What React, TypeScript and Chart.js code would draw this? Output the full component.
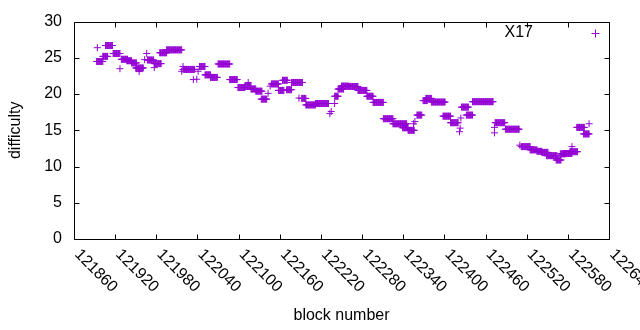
import { useEffect, useRef } from "react";
import { Chart, registerables } from "chart.js";

Chart.register(...registerables);

// Runs of consecutive blocks sharing the same difficulty
const runStart = [
  121893, 121894, 121902, 121906, 121917, 121927, 121929, 121937, 121944, 121950,
  121955, 121963, 121966, 121967, 121977, 121977, 121985, 121995, 122017, 122019,
  122019, 122034, 122039, 122041, 122043, 122051, 122059, 122070, 122087, 122099,
  122109, 122114, 122118, 122125, 122133, 122143, 122146, 122148, 122158, 122164,
  122170, 122177, 122188, 122192, 122198, 122212, 122233, 122235, 122240, 122240,
  122245, 122250, 122260, 122274, 122287, 122296, 122311, 122325, 122339, 122347,
  122355, 122357, 122360, 122369, 122373, 122381, 122398, 122409, 122422, 122423,
  122424, 122425, 122432, 122441, 122473, 122473, 122474, 122489, 122510, 122512,
  122525, 122535, 122542, 122549, 122563, 122569, 122573, 122586, 122583, 122593,
  122603, 122611,
];
const runEnd = [
  121902, 121894, 121909, 121916, 121927, 121927, 121938, 121944, 121951, 121961,
  121955, 121963, 121966, 121976, 121987, 121977, 121995, 122017, 122017, 122036,
  122019, 122034, 122039, 122041, 122051, 122059, 122069, 122087, 122098, 122109,
  122118, 122114, 122125, 122134, 122141, 122143, 122146, 122158, 122166, 122171,
  122177, 122193, 122188, 122198, 122212, 122231, 122233, 122235, 122240, 122245,
  122253, 122260, 122274, 122287, 122296, 122311, 122325, 122345, 122347, 122356,
  122355, 122357, 122367, 122375, 122381, 122401, 122409, 122420, 122422, 122423,
  122424, 122435, 122441, 122471, 122473, 122473, 122488, 122509, 122510, 122525,
  122535, 122542, 122551, 122564, 122570, 122576, 122586, 122586, 122594, 122604,
  122611, 122611,
];
const runValue = [
  24.5, 26.4, 25.2, 26.7, 25.6, 23.5, 24.8, 24.6, 24.3, 23.6,
  23.1, 24.75, 25.6, 24.7, 24.2, 23.65, 25.7, 26.1, 23.15, 23.4,
  23.8, 22.0, 22.05, 23.15, 23.8, 22.65, 22.3, 24.15, 22.0, 20.9,
  21.05, 21.6, 20.7, 20.4, 19.3, 20.1, 21.1, 21.4, 20.5, 21.9,
  20.6, 21.6, 19.45, 19.4, 18.5, 18.7, 17.3, 17.6, 18.7, 19.7,
  20.7, 21.1, 21.05, 20.5, 19.7, 18.85, 16.6, 15.9, 15.35, 15.0,
  15.9, 16.2, 17.1, 19.1, 19.4, 18.9, 16.95, 16.05, 14.8, 15.3,
  16.7, 18.2, 17.1, 18.95, 14.65, 15.4, 16.05, 15.15, 12.95, 12.75,
  12.3, 12.1, 11.95, 11.5, 10.9, 11.75, 11.8, 12.75, 12.05, 15.4,
  14.5, 15.9,
];

const seriesLabel = "X17";
const xTitle = "block number";
const yTitle = "difficulty";
const xMin = 121860;
const xMax = 122640;
const xStep = 60;
const yMin = 0;
const yMax = 30;
const yStep = 5;

const COLOR = "#9400D3";
const FONT_FAMILY = '"Liberation Sans", Arial, Helvetica, sans-serif';

const framePlugin = {
  id: "gnuFrame",
  afterDatasetsDraw(chart: any) {
    const { ctx, chartArea, scales } = chart;
    const { left, right, top, bottom } = chartArea;
    const xs = scales.x;
    const ys = scales.y;
    const L = Math.round(left) + 0.5;
    const R = Math.round(right) + 0.5;
    const T = Math.round(top) + 0.5;
    const B = Math.round(bottom) + 0.5;
    const tl = 5;
    ctx.save();
    ctx.strokeStyle = "#000";
    ctx.lineWidth = 1;
    ctx.beginPath();
    ctx.rect(L, T, R - L, B - T);
    // x ticks (inward, mirrored)
    xs.ticks.forEach((t: any) => {
      const px = Math.round(xs.getPixelForValue(t.value)) + 0.5;
      ctx.moveTo(px, B);
      ctx.lineTo(px, B - tl);
      ctx.moveTo(px, T);
      ctx.lineTo(px, T + tl);
    });
    ys.ticks.forEach((t: any) => {
      const py = Math.round(ys.getPixelForValue(t.value)) + 0.5;
      ctx.moveTo(L, py);
      ctx.lineTo(L + tl, py);
      ctx.moveTo(R, py);
      ctx.lineTo(R - tl, py);
    });
    ctx.stroke();

    // rotated x tick labels
    ctx.fillStyle = "#000";
    ctx.font = `16px ${FONT_FAMILY}`;
    ctx.textAlign = "left";
    ctx.textBaseline = "middle";
    xs.ticks.forEach((t: any) => {
      const px = xs.getPixelForValue(t.value);
      ctx.save();
      ctx.translate(px + 3, bottom + 13);
      ctx.rotate(Math.PI / 4);
      ctx.fillText(String(t.value), 0, 0);
      ctx.restore();
    });

    // legend (gnuplot style: text then sample)
    const ly = top + 11;
    ctx.textAlign = "right";
    ctx.fillText(chart.data.datasets[0].label, right - 76, ly);
    const sx = Math.round(right - 14) + 0.5;
    const sy = Math.round(ly) + 0.5;
    ctx.strokeStyle = COLOR;
    ctx.beginPath();
    ctx.moveTo(sx - 4, sy);
    ctx.lineTo(sx + 4, sy);
    ctx.moveTo(sx, sy - 4);
    ctx.lineTo(sx, sy + 4);
    ctx.stroke();
    ctx.restore();
  },
};

export default function App() {
  const canvasRef = useRef<HTMLCanvasElement | null>(null);

  useEffect(() => {
    const canvas = canvasRef.current;
    if (!canvas) return;
    const points: { x: number; y: number }[] = [];
    runStart.forEach((s, i) => {
      for (let b = s; b <= runEnd[i]; b++) points.push({ x: b, y: runValue[i] });
    });

    const chart = new Chart(canvas, {
      type: "scatter",
      data: {
        datasets: [
          {
            label: seriesLabel,
            data: points,
            pointStyle: "cross",
            pointRadius: 3.5,
            pointHoverRadius: 3.5,
            borderWidth: 1,
            borderColor: COLOR,
            backgroundColor: COLOR,
            showLine: false,
          },
        ],
      },
      options: {
        animation: false,
        responsive: false,
        devicePixelRatio: 1,
        layout: { padding: { left: 0, top: 20, right: 31, bottom: 0 } },
        plugins: {
          legend: { display: false },
          tooltip: { enabled: false },
        },
        scales: {
          x: {
            type: "linear",
            min: xMin,
            max: xMax,
            ticks: { stepSize: xStep, display: false },
            grid: { display: false, drawTicks: false },
            border: { display: false },
            title: {
              display: true,
              text: xTitle,
              color: "#000",
              font: { family: FONT_FAMILY, size: 16 },
              padding: { top: 0, bottom: 5 },
            },
            afterFit: (s: any) => {
              s.height = 91;
            },
          },
          y: {
            type: "linear",
            min: yMin,
            max: yMax,
            ticks: {
              stepSize: yStep,
              padding: 12,
              color: "#000",
              font: { family: FONT_FAMILY, size: 16 },
            },
            grid: { display: false, drawTicks: false },
            border: { display: false },
            title: {
              display: true,
              text: yTitle,
              color: "#000",
              font: { family: FONT_FAMILY, size: 16 },
              padding: { top: 6, bottom: 0 },
            },
            afterFit: (s: any) => {
              s.width = 74;
            },
          },
        },
      },
      plugins: [framePlugin],
    });
    return () => chart.destroy();
  }, []);

  return (
    <div style={{ position: "absolute", left: 0, top: 0, width: 640, height: 330, background: "#fff" }}>
      <canvas ref={canvasRef} width={640} height={330} />
    </div>
  );
}
